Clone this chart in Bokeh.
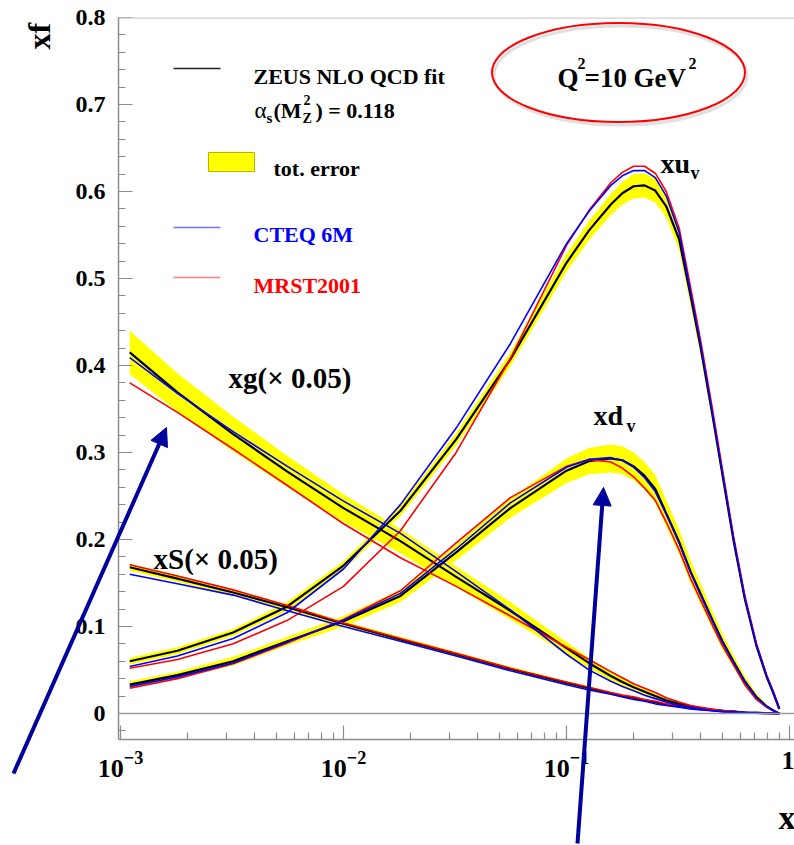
import math
from bokeh.plotting import figure
from bokeh.models import (Range1d, FixedTicker, LogTickFormatter, Label, Arrow,
                          NormalHead, BoxAnnotation, Span)
from bokeh.embed import file_html
from bokeh.resources import INLINE

# ---------------- data ----------------
x = [0.0011, 0.0018, 0.0032, 0.0056, 0.01, 0.018, 0.032, 0.056, 0.1, 0.126, 0.158,
     0.178, 0.2, 0.224, 0.25, 0.28, 0.32, 0.36, 0.4, 0.45, 0.5, 0.56, 0.63, 0.71,
     0.79, 0.85, 0.9]

# ZEUS NLO QCD fit (central) and total error (half width)
zeus_xuv = [0.060, 0.072, 0.093, 0.123, 0.170, 0.233, 0.315, 0.407, 0.518, 0.555, 0.585,
            0.598, 0.606, 0.607, 0.601, 0.583, 0.545, 0.480, 0.420, 0.345, 0.275, 0.200,
            0.132, 0.078, 0.042, 0.022, 0.005]
zeus_xuv_err = [0.004, 0.004, 0.004, 0.005, 0.005, 0.006, 0.007, 0.008, 0.010, 0.011, 0.012,
                0.013, 0.014, 0.014, 0.014, 0.013, 0.012, 0.011, 0.010, 0.009, 0.008, 0.007,
                0.006, 0.004, 0.003, 0.002, 0.001]
zeus_xdv = [0.033, 0.044, 0.060, 0.083, 0.106, 0.135, 0.185, 0.236, 0.279, 0.290, 0.293,
            0.291, 0.284, 0.273, 0.258, 0.230, 0.197, 0.163, 0.137, 0.108, 0.083, 0.060,
            0.037, 0.019, 0.008, 0.003, 0.000]
zeus_xdv_err = [0.004, 0.004, 0.005, 0.005, 0.006, 0.007, 0.009, 0.011, 0.014, 0.015, 0.016,
                0.016, 0.016, 0.016, 0.016, 0.015, 0.014, 0.013, 0.012, 0.010, 0.009, 0.007,
                0.006, 0.004, 0.002, 0.001, 0.000]
zeus_xg = [0.415, 0.369, 0.321, 0.278, 0.236, 0.198, 0.157, 0.118, 0.075, 0.058, 0.043,
           0.036, 0.030, 0.025, 0.020, 0.015, 0.011, 0.008, 0.006, 0.004, 0.003, 0.002,
           0.001, 0.0005, 0.0002, 0.0001, 0.0]
zeus_xg_err = [0.025, 0.022, 0.020, 0.018, 0.016, 0.014, 0.012, 0.010, 0.007, 0.006, 0.005,
               0.0045, 0.004, 0.0035, 0.003, 0.0025, 0.002, 0.0017, 0.0015, 0.0012, 0.001,
               0.0008, 0.0005, 0.0003, 0.0002, 0.0001, 0.0]
zeus_xS = [0.168, 0.155, 0.139, 0.122, 0.103, 0.085, 0.068, 0.051, 0.035, 0.029, 0.023,
           0.020, 0.018, 0.015, 0.013, 0.010, 0.008, 0.006, 0.005, 0.004, 0.003, 0.002,
           0.001, 0.0005, 0.0002, 0.0001, 0.0]
zeus_xS_err = [0.004, 0.004, 0.0035, 0.003, 0.003, 0.003, 0.0025, 0.0025, 0.002, 0.002, 0.0018,
               0.0016, 0.0015, 0.0013, 0.0012, 0.001, 0.0009, 0.0008, 0.0007, 0.0006, 0.0005,
               0.0004, 0.0003, 0.0002, 0.0001, 0.0001, 0.0]

# CTEQ 6M
cteq_xuv = [0.054, 0.066, 0.086, 0.116, 0.166, 0.240, 0.328, 0.425, 0.540, 0.577, 0.607,
            0.618, 0.624, 0.624, 0.616, 0.595, 0.553, 0.484, 0.423, 0.347, 0.277, 0.202,
            0.133, 0.079, 0.043, 0.023, 0.006]
cteq_xdv = [0.031, 0.042, 0.058, 0.082, 0.107, 0.138, 0.189, 0.242, 0.283, 0.292, 0.294,
            0.291, 0.283, 0.271, 0.255, 0.229, 0.196, 0.162, 0.136, 0.107, 0.082, 0.059,
            0.036, 0.018, 0.008, 0.003, 0.000]
cteq_xg = [0.409, 0.368, 0.324, 0.284, 0.244, 0.207, 0.163, 0.119, 0.068, 0.050, 0.037,
           0.031, 0.026, 0.021, 0.017, 0.013, 0.009, 0.007, 0.005, 0.003, 0.002, 0.0015,
           0.001, 0.0005, 0.0002, 0.0001, 0.0]
cteq_xS = [0.160, 0.149, 0.136, 0.118, 0.100, 0.083, 0.066, 0.049, 0.033, 0.027, 0.022,
           0.019, 0.016, 0.014, 0.011, 0.009, 0.007, 0.005, 0.004, 0.003, 0.002, 0.0015,
           0.001, 0.0005, 0.0002, 0.0001, 0.0]

# MRST2001
mrst_xuv = [0.052, 0.062, 0.080, 0.107, 0.146, 0.210, 0.300, 0.408, 0.538, 0.578, 0.610,
            0.622, 0.629, 0.629, 0.621, 0.600, 0.558, 0.490, 0.428, 0.352, 0.281, 0.205,
            0.136, 0.081, 0.044, 0.024, 0.006]
mrst_xdv = [0.029, 0.040, 0.057, 0.081, 0.108, 0.141, 0.196, 0.248, 0.284, 0.292, 0.289,
            0.282, 0.272, 0.259, 0.245, 0.220, 0.188, 0.155, 0.130, 0.102, 0.078, 0.056,
            0.033, 0.016, 0.007, 0.003, 0.000]
mrst_xg = [0.380, 0.346, 0.304, 0.262, 0.218, 0.179, 0.146, 0.112, 0.076, 0.062, 0.048,
           0.041, 0.034, 0.029, 0.024, 0.018, 0.013, 0.009, 0.007, 0.005, 0.003, 0.002,
           0.001, 0.0005, 0.0002, 0.0001, 0.0]
mrst_xS = [0.171, 0.158, 0.142, 0.124, 0.104, 0.086, 0.069, 0.052, 0.036, 0.030, 0.024,
           0.021, 0.019, 0.016, 0.014, 0.011, 0.009, 0.007, 0.005, 0.004, 0.003, 0.002,
           0.001, 0.0005, 0.0002, 0.0001, 0.0]

x_ticks = [0.001, 0.01, 0.1, 1.0]
x_tick_overrides = {1.0: "1"}
y_ticks = [0.0, 0.1, 0.2, 0.3, 0.4, 0.5, 0.6, 0.7, 0.8]
y_tick_labels = ["0", "0.1", "0.2", "0.3", "0.4", "0.5", "0.6", "0.7", "0.8"]

# ---------------- main figure ----------------
FONT = "Liberation Serif"
GRAY = "#8c8c8c"
W, H = 794, 845

p = figure(width=W, height=H, x_axis_type="log",
           x_range=Range1d(10 ** -3.009, 10 ** 0.0224), y_range=Range1d(-0.03, 0.8),
           output_backend="svg", toolbar_location=None,
           min_border_left=118, min_border_right=0, min_border_top=17, min_border_bottom=106)
p.title.visible = False
p.xgrid.visible = False
p.ygrid.visible = False
p.outline_line_color = None
p.background_fill_color = "white"

xa = p.xaxis[0]
ya = p.yaxis[0]
xa.ticker = FixedTicker(ticks=x_ticks,
                        minor_ticks=[k * t for t in x_ticks[:-1] for k in range(2, 10)])
xa.formatter = LogTickFormatter()
xa.major_label_overrides = x_tick_overrides
ya.ticker = FixedTicker(ticks=y_ticks, minor_ticks=[round(-0.02 + 0.02 * i, 2) for i in range(42)])
ya.major_label_overrides = dict(zip(y_ticks, y_tick_labels))
for ax in (xa, ya):
    ax.axis_line_color = GRAY
    ax.axis_line_width = 1.5
    ax.major_tick_line_color = GRAY
    ax.minor_tick_line_color = GRAY
    ax.major_tick_line_width = 1.2
    ax.minor_tick_line_width = 1.2
    ax.major_tick_in = 14
    ax.major_tick_out = 0
    ax.minor_tick_in = 7
    ax.minor_tick_out = 0
    ax.major_label_text_font = FONT
    ax.major_label_text_font_style = "bold"
    ax.major_label_text_font_size = "24px"
    ax.major_label_text_color = "black"
xa.major_label_text_font_size = "26px"
ya.major_label_standoff = 13
xa.major_label_standoff = 12

p.add_layout(Span(location=0, dimension="width", line_color="#9a9a9a", line_width=1.5))
p.add_layout(Span(location=0.8, dimension="width", line_color="#cfcfcf", line_width=2.5))

# bands
for c, e in ((zeus_xuv, zeus_xuv_err), (zeus_xdv, zeus_xdv_err),
             (zeus_xg, zeus_xg_err), (zeus_xS, zeus_xS_err)):
    p.varea(x=x, y1=[a - b for a, b in zip(c, e)], y2=[a + b for a, b in zip(c, e)],
            fill_color="#ffff00")
for c in (zeus_xuv, zeus_xdv, zeus_xg, zeus_xS):
    p.line(x, c, line_color="black", line_width=2.2, line_join="round")
for c in (mrst_xuv, mrst_xdv, mrst_xg, mrst_xS):
    p.line(x, c, line_color="#ff0000", line_width=1.6, line_join="round")
for c in (cteq_xuv, cteq_xdv, cteq_xg, cteq_xS):
    p.line(x, c, line_color="#0000ff", line_width=1.6, line_join="round")

# ---------------- transparent overlay for texts and arrows (page pixels) ----------------
o = figure(width=W, height=H, x_range=Range1d(0, W), y_range=Range1d(H, 0),
           x_axis_location=None, y_axis_location=None, output_backend="svg",
           toolbar_location=None, min_border=0)
o.title.visible = False
o.grid.visible = False
o.outline_line_color = None
o.background_fill_color = None
o.border_fill_color = None
o.styles = {"position": "absolute", "top": "0px", "left": "0px"}


def lab(text, ax, ay, size, color="black", style="bold", angle=0.0):
    o.add_layout(Label(x=ax, y=ay, text=text, text_font=FONT, text_font_style=style,
                       text_font_size=f"{size}px", text_color=color,
                       text_align="left", text_baseline="alphabetic", angle=angle))


# legend
o.line([173, 220], [68, 68], line_color="#222222", line_width=1.5)
lab("ZEUS NLO QCD fit", 253, 76, 22)
lab("\u03b1", 254, 110, 23, style="normal")
lab("s", 266, 117, 15)
lab("(M", 273, 110, 22)
lab("2", 303, 99, 14)
lab("Z", 302, 118, 14)
lab(") = 0.118", 315, 110, 22)
o.add_layout(BoxAnnotation(left=208, right=254, top=152, bottom=171,
                           fill_color="#ffff00", fill_alpha=1.0,
                           line_color="#b5b500", line_width=1, line_alpha=1.0))
lab("tot. error", 273, 168, 22)
o.line([173, 220], [227, 227], line_color="#0000ff", line_width=1.5, line_alpha=0.55)
lab("CTEQ 6M", 253, 234, 22, color="#0000ff")
o.line([173, 220], [277, 277], line_color="#ff0000", line_width=1.5, line_alpha=0.5)
lab("MRST2001", 253, 285, 22, color="#ff0000")

# Q^2 ellipse
o.ellipse(x=[620], y=[75], width=253, height=99, fill_color=None,
          line_color="#bbbbbb", line_width=3, line_alpha=0.45)
o.ellipse(x=[618], y=[72], width=253, height=99, fill_color=None,
          line_color="#ff0000", line_width=2)
lab("Q", 557, 77, 27)
lab("2", 577, 63, 16)
lab("=10", 584, 77, 27)
lab("GeV", 633, 77, 27)
lab("2", 688, 63, 16)

# curve labels
lab("xu", 660, 163, 28)
lab("v", 690, 172, 18)
lab("xd", 593, 415, 28)
lab("v", 626, 425, 18)
lab("xg(\u00d7 0.05)", 228, 377, 29)
lab("xS(\u00d7 0.05)", 153, 558, 29)

# axis titles
lab("xf", 38, 49, 32, angle=math.pi / 2)
lab("x", 778, 817, 34)

# arrows
NAVY = "#00009c"
o.add_layout(Arrow(end=NormalHead(size=18, fill_color=NAVY, line_color=NAVY),
                   x_start=13, y_start=773, x_end=166, y_end=427,
                   line_color=NAVY, line_width=4))
o.add_layout(Arrow(end=NormalHead(size=18, fill_color=NAVY, line_color=NAVY),
                   x_start=577, y_start=843, x_end=603, y_end=487,
                   line_color=NAVY, line_width=4))

open("out.html", "w").write(file_html([p, o], INLINE))
